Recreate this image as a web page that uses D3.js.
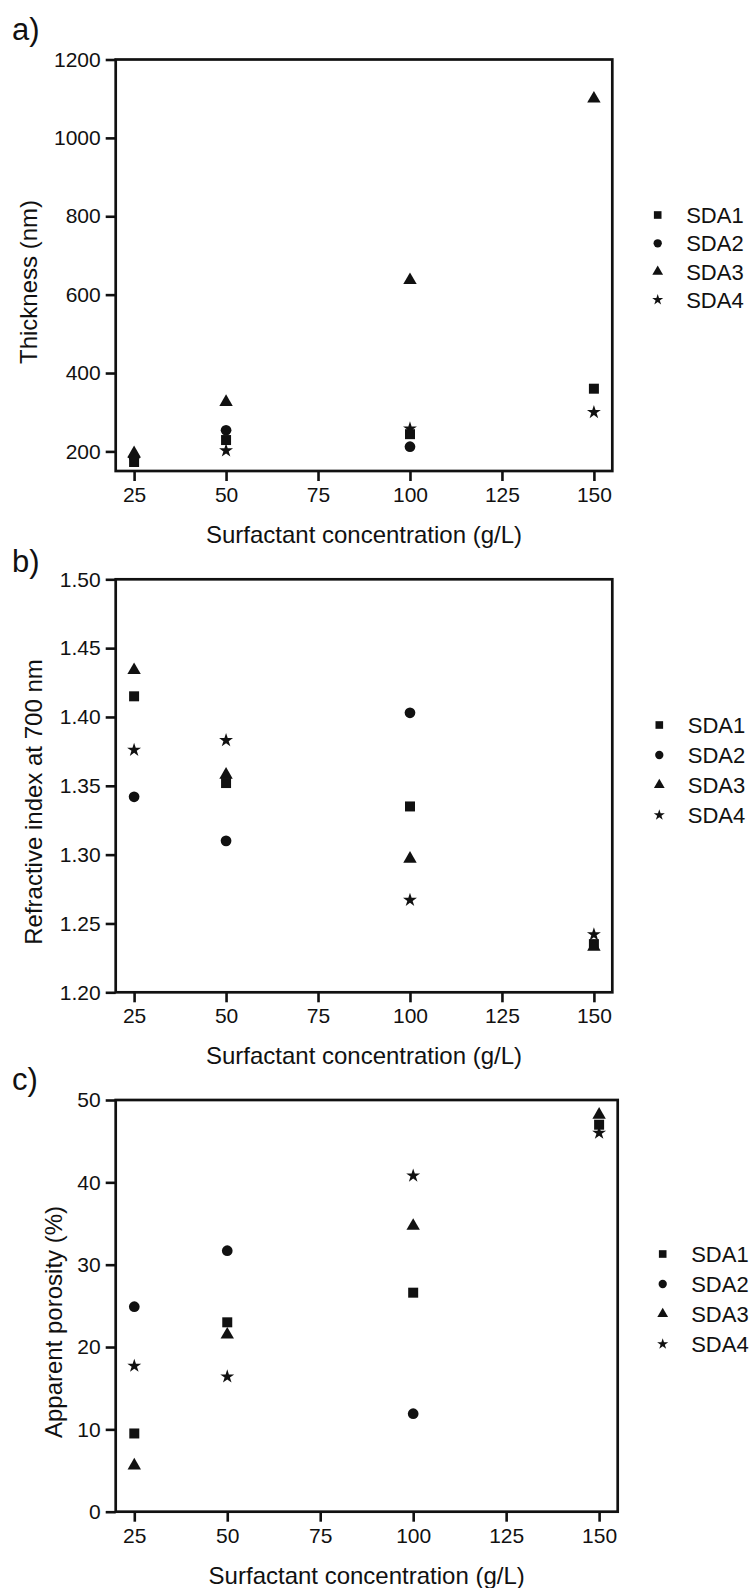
<!DOCTYPE html>
<html>
<head>
<meta charset="utf-8">
<script src="https://cdn.jsdelivr.net/npm/d3@7"></script>
<style>
  body { margin: 0; background: #fff; }
  svg text { font-family: "Liberation Sans", Arial, sans-serif; fill: #111; }
</style>
</head>
<body>
<div id="chart"></div>
<script>
// data
const concentrations = [25, 50, 100, 150];
const seriesNames = ["SDA1", "SDA2", "SDA3", "SDA4"];
const xTicks = [25, 50, 75, 100, 125, 150];

const thickness = {
  SDA1: [173, 229, 244, 360],
  SDA2: [185, 254, 212, null],
  SDA3: [195, 326, 637, 1100],
  SDA4: [180, 202, 258, 300]
};
const thicknessTicks = [200, 400, 600, 800, 1000, 1200];

const refractive = {
  SDA1: [1.415, 1.352, 1.335, 1.235],
  SDA2: [1.342, 1.310, 1.403, null],
  SDA3: [1.434, 1.358, 1.297, 1.233],
  SDA4: [1.376, 1.383, 1.267, 1.242]
};
const refractiveTicks = [1.20, 1.25, 1.30, 1.35, 1.40, 1.45, 1.50];

const porosity = {
  SDA1: [9.5, 23.0, 26.6, 47.0],
  SDA2: [24.9, 31.7, 11.9, null],
  SDA3: [5.6, 21.5, 34.7, 48.2],
  SDA4: [17.7, 16.4, 40.8, 46.0]
};
const porosityTicks = [0, 10, 20, 30, 40, 50];

const width = 753;
const height = 1588;

const svg = d3
  .select("#chart")
  .append("svg")
  .attr("width", width)
  .attr("height", height);

svg.append("rect").attr("width", width).attr("height", height).attr("fill", "#fff");

const symbols = {
  SDA1: d3.symbolSquare,
  SDA2: d3.symbolCircle,
  SDA3: d3.symbolTriangle,
  SDA4: d3.symbolStar
};
const plotSize = { SDA1: 100, SDA2: 90, SDA3: 78, SDA4: 60 };
const legendSize = { SDA1: 58, SDA2: 54, SDA3: 50, SDA4: 38 };

const panels = [
  {
    label: "a)", labelY: 40,
    data: thickness, yDomain: [150, 1200], yTicks: thicknessTicks, fmt: d3.format("d"),
    left: 115.7, right: 612.3, top: 59.5, bottom: 471,
    yTitle: "Thickness (nm)", yTitleX: 37, yTitleY: 282,
    xTitleY: 543,
    legendX: 657.7, legendY: 215, legendStep: 28.3
  },
  {
    label: "b)", labelY: 572,
    data: refractive, yDomain: [1.2, 1.5], yTicks: refractiveTicks, fmt: d3.format(".2f"),
    left: 115.7, right: 612.3, top: 579.3, bottom: 992.3,
    yTitle: "Refractive index at 700 nm", yTitleX: 42, yTitleY: 802,
    xTitleY: 1064,
    legendX: 659.3, legendY: 725, legendStep: 30
  },
  {
    label: "c)", labelY: 1090,
    data: porosity, yDomain: [0, 50], yTicks: porosityTicks, fmt: d3.format("d"),
    left: 115.7, right: 617.7, top: 1100, bottom: 1511.7,
    yTitle: "Apparent porosity (%)", yTitleX: 62, yTitleY: 1322,
    xTitleY: 1584,
    legendX: 662.7, legendY: 1254, legendStep: 30
  }
];

panels.forEach(function (p) {
  const x = d3.scaleLinear().domain([20, 155]).range([p.left, p.right]);
  const y = d3.scaleLinear().domain(p.yDomain).range([p.bottom, p.top]);

  const g = svg.append("g");

  // panel letter
  g.append("text")
    .attr("x", 12)
    .attr("y", p.labelY)
    .style("font-size", "31px")
    .text(p.label);

  // axes
  const xAxis = g
    .append("g")
    .attr("transform", `translate(0,${p.bottom})`)
    .call(d3.axisBottom(x).tickValues(xTicks).tickSize(10).tickSizeOuter(0).tickPadding(6));

  const yAxis = g
    .append("g")
    .attr("transform", `translate(${p.left},0)`)
    .call(d3.axisLeft(y).tickValues(p.yTicks).tickFormat(p.fmt).tickSize(10).tickSizeOuter(0).tickPadding(5));

  [xAxis, yAxis].forEach(function (ax) {
    ax.select(".domain").remove();
    ax.selectAll(".tick line").attr("stroke", "#111").attr("stroke-width", 2.6);
    ax.selectAll(".tick text")
      .attr("fill", "#111")
      .style("font-size", "21px")
      .style("font-family", "'Liberation Sans', Arial, sans-serif");
  });

  // frame
  g.append("rect")
    .attr("x", p.left)
    .attr("y", p.top)
    .attr("width", p.right - p.left)
    .attr("height", p.bottom - p.top)
    .attr("fill", "none")
    .attr("stroke", "#111")
    .attr("stroke-width", 2.7);

  // titles
  g.append("text")
    .attr("x", (p.left + p.right) / 2)
    .attr("y", p.xTitleY)
    .attr("text-anchor", "middle")
    .style("font-size", "24px")
    .text("Surfactant concentration (g/L)");

  g.append("text")
    .attr("transform", `translate(${p.yTitleX},${p.yTitleY}) rotate(-90)`)
    .attr("text-anchor", "middle")
    .style("font-size", "24px")
    .text(p.yTitle);

  // points
  seriesNames.forEach(function (name) {
    const pts = concentrations
      .map((c, i) => ({ c: c, v: p.data[name][i] }))
      .filter((d) => d.v !== null);

    g.selectAll(null)
      .data(pts)
      .enter()
      .append("path")
      .attr("d", d3.symbol().type(symbols[name]).size(plotSize[name]))
      .attr("transform", (d) => `translate(${x(d.c)},${y(d.v)})`)
      .attr("fill", "#111");
  });

  // legend
  const legend = g
    .selectAll(".legend-item")
    .data(seriesNames)
    .enter()
    .append("g")
    .attr("transform", (d, i) => `translate(${p.legendX},${p.legendY + i * p.legendStep})`);

  legend
    .append("path")
    .attr("d", (d) => d3.symbol().type(symbols[d]).size(legendSize[d])())
    .attr("fill", "#111");

  legend
    .append("text")
    .attr("x", 28.5)
    .attr("dy", "0.36em")
    .style("font-size", "22px")
    .text((d) => d);
});
</script>
</body>
</html>
